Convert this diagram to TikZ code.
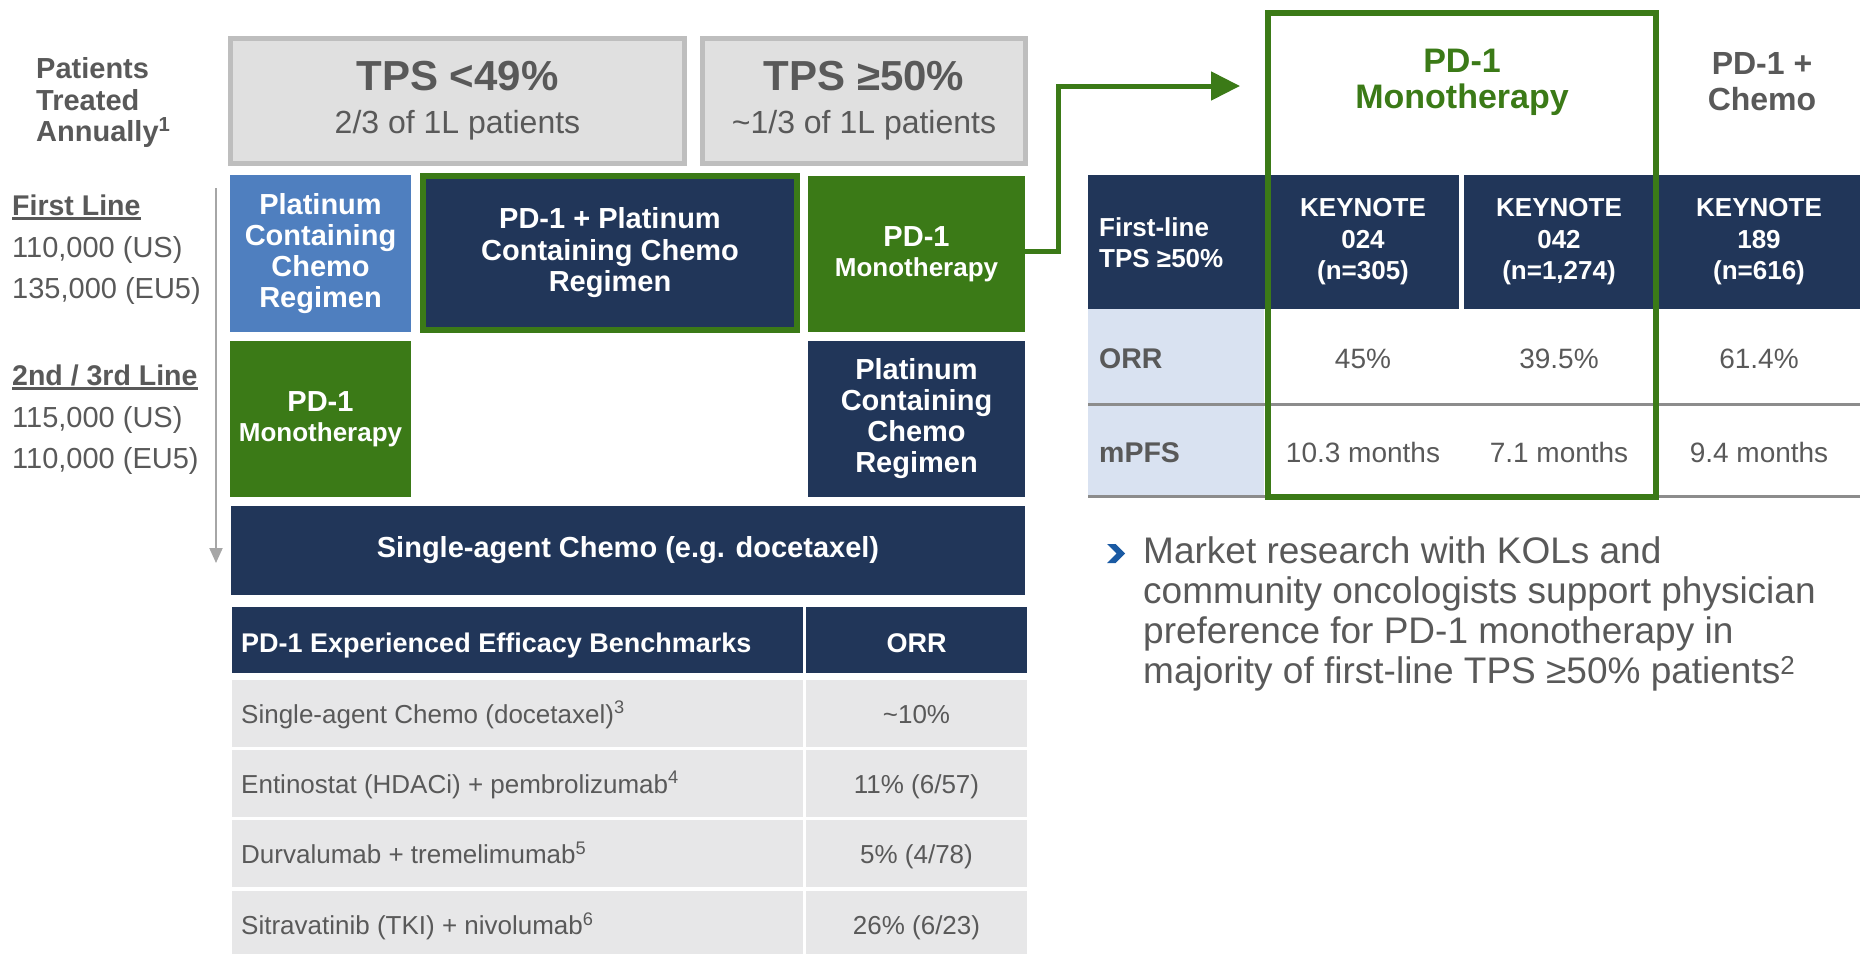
\documentclass[tikz,border=0pt]{standalone}
\usepackage{fontspec}
\setmainfont{Liberation Sans}
\usetikzlibrary{arrows.meta,positioning}

\definecolor{navy}{HTML}{213659}
\definecolor{grn}{HTML}{3B7A17}
\definecolor{ltblue}{HTML}{4F7FBF}
\definecolor{boxgray}{HTML}{E0E0E0}
\definecolor{edgegray}{HTML}{BEBEBE}
\definecolor{txtgray}{HTML}{595959}
\definecolor{rowgray}{HTML}{E7E7E8}
\definecolor{paleblue}{HTML}{D9E2F1}
\definecolor{rulegray}{HTML}{8C8C8C}
\definecolor{arrowgray}{HTML}{A6A6A6}
\definecolor{chevblue}{HTML}{1A5AA3}

\newcommand\fsz[2]{\fontsize{#1pt}{#2pt}\selectfont}

\tikzset{
  blk/.style={inner sep=0pt, outer sep=0pt, align=center, text=white},
  navybox/.style={blk, fill=navy},
  greenbox/.style={blk, fill=grn},
  bluebox/.style={blk, fill=ltblue},
  tpsbox/.style={blk, fill=boxgray, draw=edgegray, line width=5pt, text=txtgray,
    minimum height=125pt, font=\fsz{32}{43}},
  rowcell/.style={blk, fill=rowgray, minimum height=67pt},
  lbl/.style={inner sep=0pt, anchor=base west, text=txtgray},
  val/.style={inner sep=0pt, anchor=base, text=txtgray},
}

\begin{document}
\begin{tikzpicture}[x=1pt,y=-1pt]
  \useasboundingbox (0,0) rectangle (1860,953);

  % patient numbers
  \node[lbl, font=\fsz{29}{32}\bfseries] (pat) at (36,78) {Patients};
  \node[lbl, font=\fsz{29}{32}\bfseries] (trt) at (36,110) {Treated};
  \node[lbl, font=\fsz{29}{32}\bfseries] (ann) at (36,141) {Annually\textsuperscript{1}};
  \node[lbl, font=\fsz{28.5}{32}\bfseries] (first) at (12,215) {First Line};
  \node[lbl, font=\fsz{29}{32}] (usA) at (12,257) {110,000 (US)};
  \node[lbl, font=\fsz{29}{32}] (euA) at (12,298) {135,000 (EU5)};
  \node[lbl, font=\fsz{28.5}{32}\bfseries] (second) at (12,385) {2nd / 3rd Line};
  \node[lbl, font=\fsz{29}{32}] (usB) at (12,427) {115,000 (US)};
  \node[lbl, font=\fsz{29}{32}] (euB) at (12,468) {110,000 (EU5)};
  \foreach \n in {first,second}
    \draw[txtgray, line width=2.5pt] ([yshift=-3.5pt]\n.base west) -- ([yshift=-3.5pt]\n.base east);

  % line of therapy arrow
  \coordinate (lnTop) at (216,188);
  \coordinate (lnEnd) at (216,563);
  \draw[arrowgray, line width=2pt, -{Triangle[length=15pt,width=13pt]}] (lnTop) -- (lnEnd);

  % TPS column heads
  \node[tpsbox, minimum width=454pt] (low) at (457.5,101)
    {{\fsz{42}{43}\bfseries TPS <49\%}\\2/3 of 1L patients};
  \node[tpsbox, minimum width=323pt] (high) at (864,101)
    {{\fsz{42}{43}\bfseries TPS ≥50\%}\\\textasciitilde 1/3 of 1L patients};

  % treatment blocks
  \node[bluebox, minimum width=181pt, minimum height=157pt, font=\fsz{29}{31}\bfseries]
    (platA) at (320.5,253.5) {Platinum\\Containing\\Chemo\\Regimen};
  \node[navybox, draw=grn, line width=6pt, minimum width=374pt, minimum height=154pt,
    font=\fsz{29}{31.5}\bfseries] (combo) at (610,253) {PD-1 + Platinum\\Containing Chemo\\Regimen};
  \node[greenbox, minimum width=217pt, minimum height=156pt, font=\fsz{29}{29.5}\bfseries]
    (monoA) at (916.5,254) {PD-1\\{\fsz{26}{29.5}Monotherapy}};
  \node[greenbox, minimum width=181pt, minimum height=156pt, font=\fsz{29}{30}\bfseries]
    (monoB) at (320.5,419) {PD-1\\{\fsz{26}{30}Monotherapy}};
  \node[navybox, minimum width=217pt, minimum height=156pt, font=\fsz{29}{31}\bfseries]
    (platB) at (916.5,419) {Platinum\\Containing\\Chemo\\Regimen};
  \node[navybox, minimum width=794pt, minimum height=89pt, font=\fsz{29}{31}\bfseries]
    (single) at (628,550.5) {Single-agent Chemo (e.g. docetaxel)};

  % benchmark table
  \node[navybox, minimum width=571pt, minimum height=66pt] (bmHead) at (517.5,640) {};
  \node[navybox, minimum width=221pt, minimum height=66pt] (orrHead) at (916.5,640) {};
  \node[lbl, text=white, font=\fsz{27}{29}\bfseries] (bmHeadTxt) at (241,652) {PD-1 Experienced Efficacy Benchmarks};
  \node[val, text=white, font=\fsz{27}{29}\bfseries] (orrHeadTxt) at (916.5,652) {ORR};
  \foreach \y/\drug/\orr [count=\i] in {
      713/{Single-agent Chemo (docetaxel)\textsuperscript{3}}/{\textasciitilde 10\%},
      783/{Entinostat (HDACi) + pembrolizumab\textsuperscript{4}}/{11\% (6/57)},
      853.5/{Durvalumab + tremelimumab\textsuperscript{5}}/{5\% (4/78)},
      924.5/{Sitravatinib (TKI) + nivolumab\textsuperscript{6}}/{26\% (6/23)}} {
    \node[rowcell, minimum width=571pt] (bm\i) at (517.5,\y) {};
    \node[rowcell, minimum width=221pt] (bmOrr\i) at (916.5,\y) {};
    \node[lbl, font=\fsz{26}{28}] (bmTxt\i) at (241,\y+10) {\drug};
    \node[val, font=\fsz{26}{28}] (bmVal\i) at (916.5,\y+10) {\orr};
  }

  % first-line results table
  \node[navybox, minimum width=177pt, minimum height=134pt] (trialHead) at (1176.5,242) {};
  \node[lbl, anchor=west, align=left, text=white, font=\fsz{26}{31}\bfseries]
    (trialHeadTxt) at (1099,242.5) {First-line\\TPS ≥50\%};
  \node[blk, fill=paleblue, minimum width=176pt, minimum height=94pt] (orrLab) at (1176,356) {};
  \node[blk, fill=paleblue, minimum width=176pt, minimum height=89pt] (pfsLab) at (1176,450.5) {};
  \node[lbl, font=\fsz{28.5}{30}\bfseries] (orrTxt) at (1099,368) {ORR};
  \node[lbl, font=\fsz{28.5}{30}\bfseries] (pfsTxt) at (1099,462) {mPFS};
  \draw[rulegray, line width=3pt] (1088,404.5) -- (1860,404.5);
  \draw[rulegray, line width=3pt] (1088,496.5) -- (1860,496.5);
  \foreach \x/\w/\trial/\pts/\orr/\pfs [count=\i] in {
      1363/192/024/{(n=305)}/{45\%}/{10.3 months},
      1559/190/042/{(n=1,274)}/{39.5\%}/{7.1 months},
      1759/202/189/{(n=616)}/{61.4\%}/{9.4 months}} {
    \node[navybox, minimum width=\w pt, minimum height=134pt, font=\fsz{26}{31.5}\bfseries]
      (trial\i) at (\x,242) {KEYNOTE\\\trial\\\pts};
    \node[val, font=\fsz{28}{30}] (orr\i) at (\x,368) {\orr};
    \node[val, font=\fsz{28}{30}] (pfs\i) at (\x,462) {\pfs};
  }

  % monotherapy frame and column titles
  \node[draw=grn, line width=6pt, inner sep=0pt, minimum width=388pt, minimum height=484pt] (frame) at (1462,255) {};
  \node[blk, text=grn, font=\fsz{34}{36}\bfseries] (monoTitle) at (1462,82) {PD-1\\Monotherapy};
  \node[blk, text=txtgray, font=\fsz{32}{36}\bfseries] (chemoTitle) at (1762,81.5) {PD-1 +\\Chemo};

  % arrow into the frame
  \coordinate (tip) at (1240,86);
  \draw[grn, line width=5pt, -{Triangle[length=29pt,width=28pt]}] ([yshift=3pt]monoA.east) -- ++(33,0) |- (tip);

  % bullet
  \fill[chevblue] (1107,544) -- (1115.5,544) -- (1125,553.5) -- (1115.5,563) -- (1107,563) -- (1116.5,553.5) -- cycle;
  \node[lbl, anchor=west, align=left, font=\fsz{37}{40}] (note) at (1143,613.5)
    {Market research with KOLs and\\community oncologists support physician\\preference for PD-1 monotherapy in\\majority of first-line TPS ≥50\% patients\textsuperscript{2}};
\end{tikzpicture}
\end{document}
